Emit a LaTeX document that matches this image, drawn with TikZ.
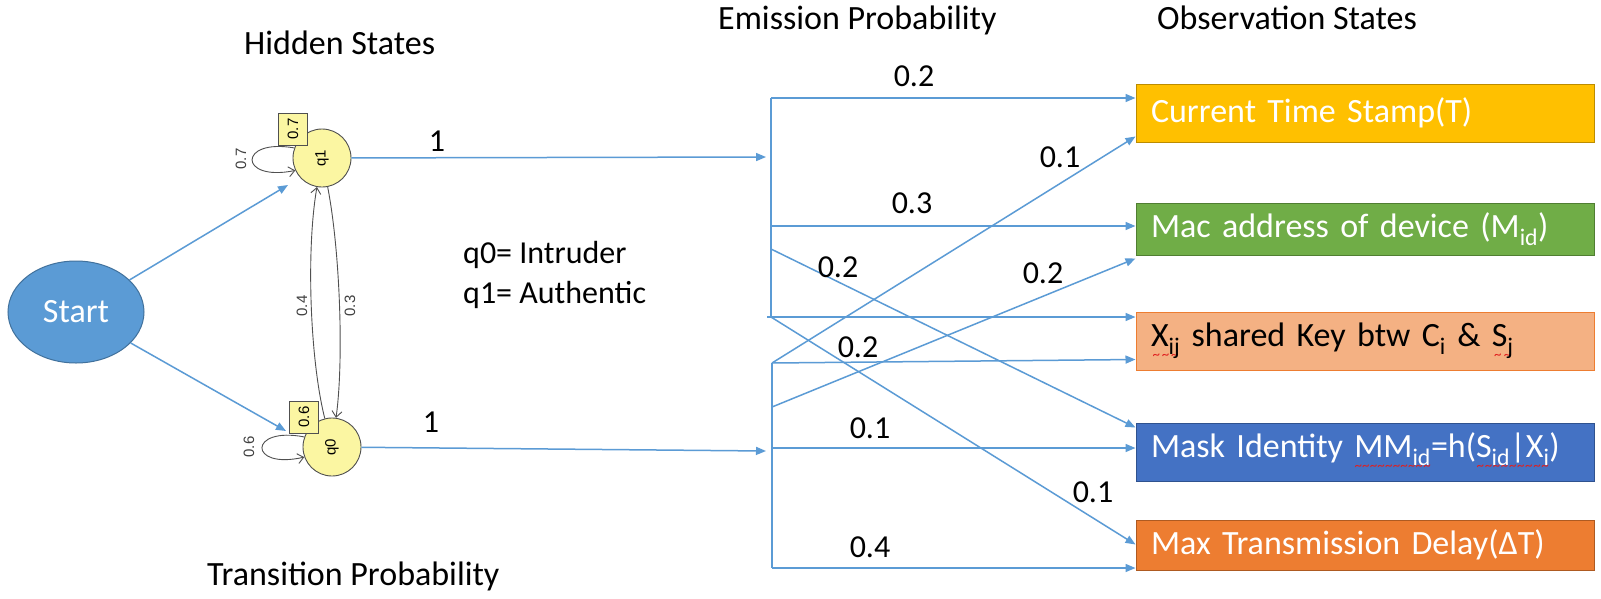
\documentclass[tikz,border=0pt]{standalone}
\usepackage{fontspec}
\setmainfont{Carlito}
\newfontfamily\gfont{Liberation Sans}
\usepackage{graphicx}
\usetikzlibrary{arrows.meta,calc,shapes.geometric}
\definecolor{eblue}{HTML}{5B9BD5}
\definecolor{startblue}{HTML}{5B9BD5}
\definecolor{startdark}{HTML}{41719C}
\definecolor{stateyel}{HTML}{FBF6A2}
\definecolor{ggray}{HTML}{505050}
\definecolor{ctfill}{HTML}{FFC000}
\definecolor{ctdraw}{HTML}{BC8C00}
\definecolor{macfill}{HTML}{70AD47}
\definecolor{macdraw}{HTML}{507E32}
\definecolor{xijfill}{HTML}{F4B183}
\definecolor{xijdraw}{HTML}{ED7D31}
\definecolor{maskfill}{HTML}{4472C4}
\definecolor{maskdraw}{HTML}{2F528F}
\definecolor{maxfill}{HTML}{ED7D31}
\definecolor{maxdraw}{HTML}{AE5A21}
\definecolor{spellred}{HTML}{E02020}
\newcommand\rw[1]{\setbox0=\hbox{#1}\leavevmode\rlap{\lower13pt\hbox to \wd0{\color{spellred}\fontsize{15}{15}\selectfont\xleaders\hbox{\char"7E}\hfill}}\box0\relax}
\begin{document}
\begin{tikzpicture}[x=1pt,y=-1pt,
  txt/.style={inner sep=0pt, anchor=base west, font=\fontsize{34}{40}\selectfont},
  lab/.style={inner sep=0pt, font=\fontsize{32}{38}\selectfont},
  glab/.style={inner sep=0pt, font=\gfont\fontsize{15}{15}\selectfont, rotate=90, text=ggray!80!black},
  state/.style={circle, minimum size=58pt, inner sep=0pt, fill=stateyel, draw=ggray, line width=0.9pt, font=\gfont\fontsize{15}{15}\selectfont},
  pbox/.style={rectangle, minimum width=29pt, minimum height=32pt, inner sep=0pt, fill=stateyel, draw=ggray, line width=0.9pt, font=\gfont\fontsize{15}{15}\selectfont},
  obox/.style={rectangle, minimum width=458pt, text width=428pt, inner xsep=15pt, inner ysep=0pt, align=left, line width=1pt, font=\fontsize{34}{40}\selectfont, text=white},
  startnode/.style={ellipse, minimum width=136pt, minimum height=102pt, inner sep=0pt, fill=startblue, draw=startdark, line width=1pt, text=white, font=\fontsize{34}{40}\selectfont},
  eline/.style={draw=eblue, line width=1.5pt},
  earrow/.style={eline, -{Triangle[length=10pt,width=8pt]}},
  gline/.style={draw=ggray, line width=0.9pt, -{Straight Barb[length=6pt,width=10pt]}}
]
\useasboundingbox[fill=white] (0,0) rectangle (1601,598);

% titles
\node[txt] (hs) at (244,54) {Hidden States};
\node[txt] (ep) at (718,29) {Emission Probability};
\node[txt] (os) at (1157,29) {Observation States};
\node[txt] (tp) at (207,585) {Transition Probability};
\node[txt, font=\fontsize{32}{38}\selectfont] (leg0) at (463,263) {q0= Intruder};
\node[txt, font=\fontsize{32}{38}\selectfont] (leg1) at (463,303) {q1= Authentic};

% start and states
\node[startnode] (start) at (76,312) {Start};
\node[state] (q1) at (322,158) {\rotatebox{90}{q1}};
\node[state] (q0) at (332,447) {\rotatebox{90}{q0}};

% self loops
\draw[gline] (q1.160) .. controls (238,138) and (238,182) .. (q1.205);
\draw[gline] (q0.160) .. controls (248,426) and (248,470) .. (q0.200);
\node[glab] (l07) at (241,159) {0.7};
\node[glab] (l06) at (249,447) {0.6};

% transitions between states
\draw[gline] (q0) .. controls (310,360) and (306,250) .. (q1);
\draw[gline] (q1) .. controls (340,250) and (344,360) .. (q0);
\node[glab] (l04) at (302,306) {0.4};
\node[glab] (l03) at (350,306) {0.3};

% initial prob boxes
\node[pbox] (b07) at (293,129) {\rotatebox{90}{0.7}};
\node[pbox] (b06) at (304,417) {\rotatebox{90}{0.6}};

% start arrows
\coordinate (t1) at (288,185);
\coordinate (t0) at (286,431);
\draw[earrow] (start) -- (t1);
\draw[earrow] (start) -- (t0);

% observation boxes
\node[obox, fill=ctfill, draw=ctdraw, minimum height=58pt] (ct) at (1365,113) {Current Time Stamp(T)};
\node[obox, fill=macfill, draw=macdraw, minimum height=52pt] (mac) at (1365,229) {Mac address of device (M\textsubscript{id})};
\node[obox, fill=xijfill, draw=xijdraw, minimum height=58pt, text=black] (xij) at (1365,341) {\rw{X\textsubscript{ij}} shared Key btw C\textsubscript{i} \& \rw{S\textsubscript{j}}};
\node[obox, fill=maskfill, draw=maskdraw, minimum height=58pt] (mask) at (1365,452) {Mask Identity \rw{MM\textsubscript{id}}=h(\rw{S\textsubscript{id}|X\textsubscript{i}})};
\node[obox, fill=maxfill, draw=maxdraw, minimum height=50pt] (maxd) at (1365,545) {Max Transmission Delay(ΔT)};

% emission skeleton
\coordinate (A1) at (771,98);
\coordinate (A2) at (771,226);
\coordinate (A3) at (771,249);
\coordinate (A4) at (771,317);
\coordinate (A4s) at (767,317);
\coordinate (B1) at (772,363);
\coordinate (B2) at (772,407);
\coordinate (B3) at (772,448);
\coordinate (B4) at (772,568);
\coordinate (in1) at (766,157);
\coordinate (in0) at (766,451);

\draw[eline] (A1) -- (A4);
\draw[eline] (B1) -- (B4);
\draw[earrow] (q1) -- (in1);
\draw[earrow] (q0) -- (in0);
\node[lab] (one1) at (437,141) {1};
\node[lab] (one0) at (431,422) {1};

\draw[earrow] (A1) -- (A1 -| ct.west);
\draw[earrow] (B1) -- ($(ct.south west)+(0,-6)$);
\draw[earrow] (A2) -- (A2 -| mac.west);
\draw[earrow] (B2) -- ($(mac.south west)+(0,3)$);
\draw[earrow] (A4s) -- (A4s -| xij.west);
\draw[earrow] (B1) -- ($(xij.south west)+(0,-11)$);
\draw[earrow] (A3) -- ($(mask.north west)+(0,5)$);
\draw[earrow] (B3) -- (B3 -| mask.west);
\draw[earrow] (A4) -- ($(maxd.north west)+(0,25)$);
\draw[earrow] (B4) -- (B4 -| maxd.west);

% emission labels
\node[lab] (e1) at (914,76) {0.2};
\node[lab] (e2) at (912,203) {0.3};
\node[lab] (e3) at (838,267) {0.2};
\node[lab] (e4) at (858,347) {0.2};
\node[lab] (e5) at (1060,157) {0.1};
\node[lab] (e6) at (1043,273) {0.2};
\node[lab] (e7) at (870,428) {0.1};
\node[lab] (e8) at (1093,492) {0.1};
\node[lab] (e9) at (870,547) {0.4};
\end{tikzpicture}
\end{document}
